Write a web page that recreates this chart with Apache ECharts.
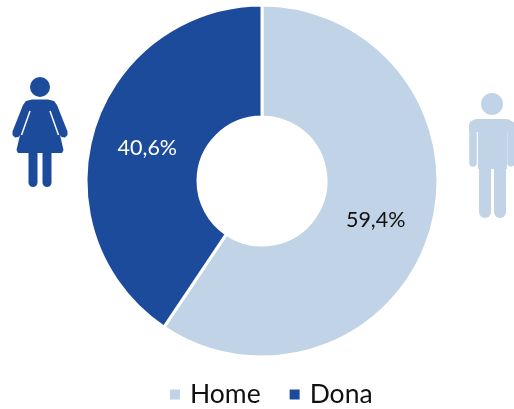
<!DOCTYPE html>
<html>
<head>
<meta charset="utf-8">
<style>
  html, body { margin: 0; padding: 0; background: #fff; }
  #chart { width: 514px; height: 409px; }
</style>
<script src="https://cdn.jsdelivr.net/npm/echarts@6/dist/echarts.min.js"></script>
</head>
<body>
<div id="chart"></div>
<script>
const categories = ["Home", "Dona"];
const shares = [59.4, 40.6];
const sliceColors = ["#c1d3e6", "#1c4b9b"];
const labelColors = ["#111111", "#ffffff"];
const labelOffsets = [[-4, 3], [3, 3]];

const FONT = "Lato";
const myChart = echarts.init(document.getElementById("chart"), null, { renderer: "canvas" });

// pictograms, left and right of the ring
const limb = (points, width, color) => ({
  type: "polyline",
  shape: { points },
  style: { stroke: color, lineWidth: width, lineCap: "round", lineJoin: "round", fill: null },
});

const womanColor = sliceColors[1];
const manColor = sliceColors[0];

const woman = [
  { type: "circle", shape: { cx: 40, cy: 87, r: 10 }, style: { fill: womanColor } },
  {
    type: "polygon",
    shape: {
      points: [
        [32, 99.5], [48, 99.5], [54, 101], [57, 105], [67.5, 131.5], [67.5, 135], [65, 137.5], [61.5, 137],
        [60, 135], [63.5, 150], [62, 153], [18, 153], [16.5, 150], [20, 135], [18.5, 137], [15, 137.5],
        [12.5, 135], [12.5, 131.5], [23, 105], [26, 101],
      ],
    },
    style: { fill: womanColor },
  },
  { type: "line", shape: { x1: 30, y1: 111, x2: 21.5, y2: 135 }, style: { stroke: "#fff", lineWidth: 1.5 } },
  { type: "line", shape: { x1: 50, y1: 111, x2: 58.5, y2: 135 }, style: { stroke: "#fff", lineWidth: 1.5 } },
  limb([[33, 150], [33, 182.5]], 9, womanColor),
  limb([[47, 150], [47, 182.5]], 9, womanColor),
];

const man = [
  { type: "circle", shape: { cx: 492, cy: 104, r: 11 }, style: { fill: manColor } },
  { type: "rect", shape: { x: 478, y: 119, width: 29, height: 50 }, style: { fill: manColor } },
  { type: "rect", shape: { x: 469, y: 119, width: 45, height: 13, r: [8, 8, 0, 0] }, style: { fill: manColor } },
  limb([[473, 125], [473, 163]], 7.5, manColor),
  limb([[511, 125], [511, 163]], 7.5, manColor),
  limb([[485, 160], [485, 212]], 12, manColor),
  limb([[500, 160], [500, 212]], 12, manColor),
];

const option = {
  animation: false,
  backgroundColor: "#ffffff",
  color: sliceColors,
  legend: {
    data: categories,
    left: 168,
    top: 381,
    padding: 0,
    icon: "rect",
    itemWidth: 12,
    itemHeight: 12,
    itemGap: 27,
    textStyle: { fontFamily: FONT, fontSize: 26.5, color: "#111111", padding: [0, 0, 0, 4] },
  },
  graphic: { elements: [...woman, ...man].map((el) => ({ ...el, silent: true })) },
  series: [
    {
      type: "pie",
      center: [262, 181],
      radius: [64, 176],
      startAngle: 90,
      clockwise: true,
      avoidLabelOverlap: false,
      itemStyle: { borderColor: "#ffffff", borderWidth: 3 },
      label: {
        position: "inside",
        fontFamily: FONT,
        fontSize: 21.5,
        formatter: (p) => String(p.value).replace(".", ",") + "%",
      },
      labelLine: { show: false },
      data: categories.map((name, i) => ({
        name,
        value: shares[i],
        label: { color: labelColors[i], offset: labelOffsets[i] },
      })),
    },
  ],
};

myChart.setOption(option);
</script>
</body>
</html>
